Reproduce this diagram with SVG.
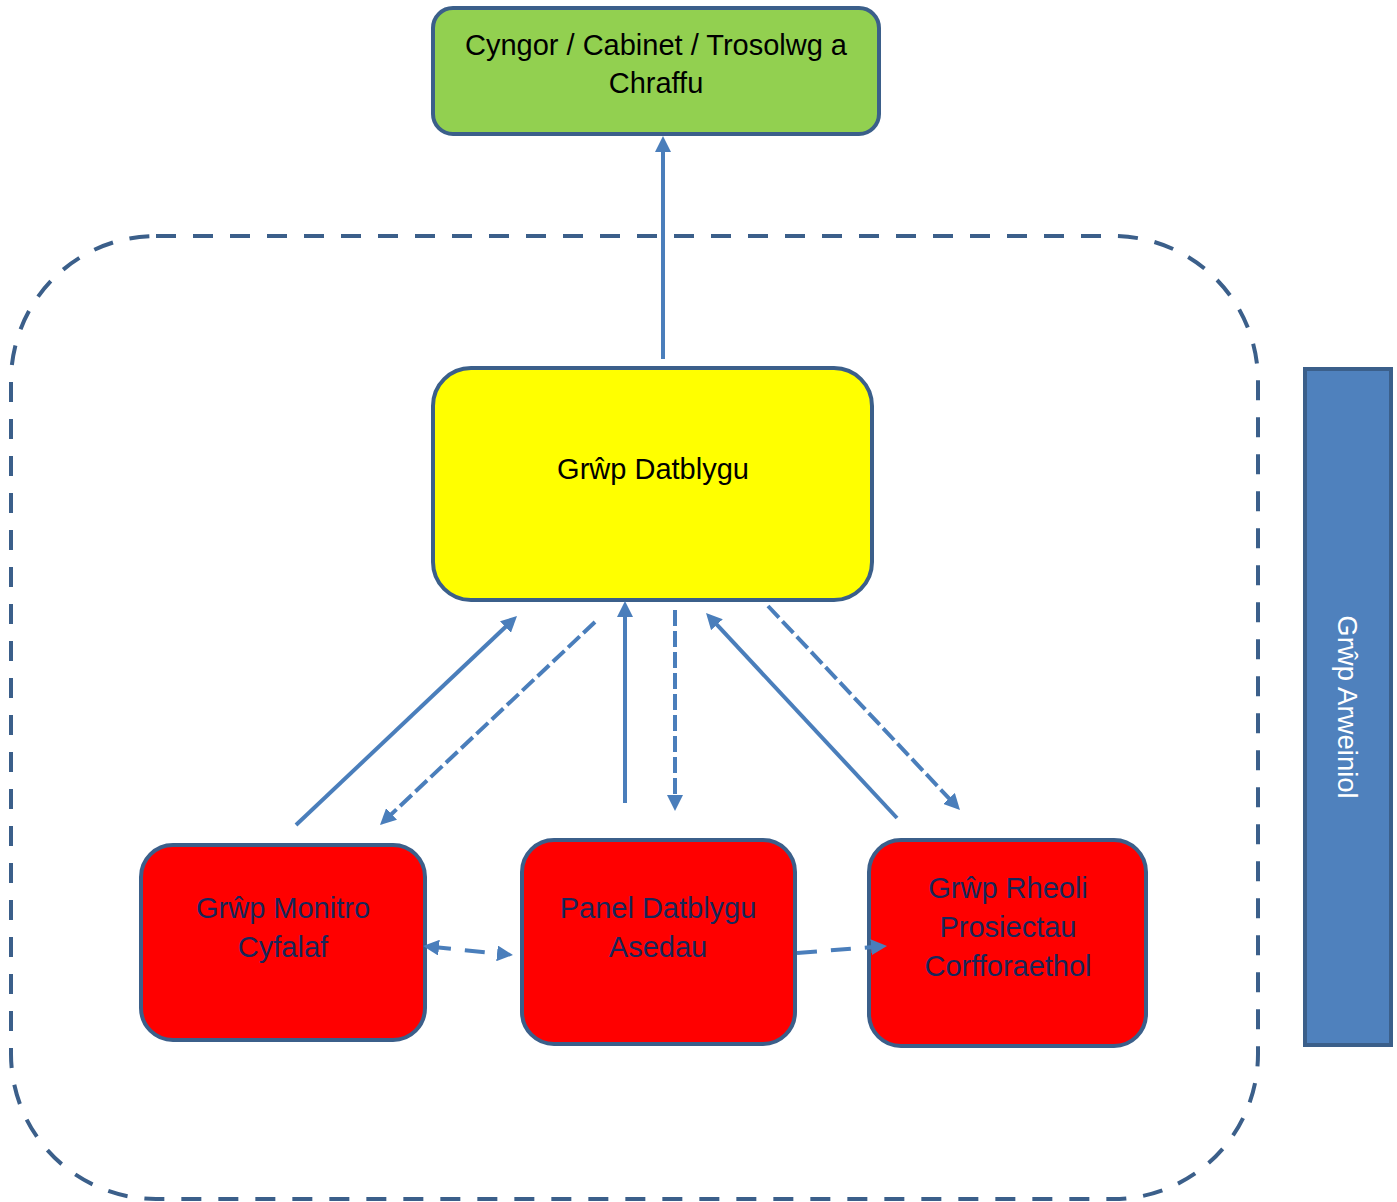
<svg xmlns="http://www.w3.org/2000/svg" width="1397" height="1202" viewBox="0 0 1397 1202">
<style>
.box{stroke:#3B5F8A;stroke-width:4}
.t{font-family:"Liberation Sans",Arial,sans-serif;font-size:29px;text-anchor:middle}
.dark{fill:#17275A}
.conn{stroke:#4A7EBB;stroke-width:4;fill:none}
.sd{stroke-dasharray:16 5}
.ld{stroke-dasharray:20 14}
</style>
<defs>
<marker id="ah" viewBox="0 0 4 4" refX="2" refY="2" markerWidth="4" markerHeight="4" orient="auto-start-reverse">
<path d="M0,0 L4,2 L0,4 z" fill="#4A7EBB"/>
</marker>
</defs>
<rect id="container" x="11" y="236" width="1247" height="963" rx="145" ry="145" fill="none" stroke="#3B5F8A" stroke-width="4" stroke-dasharray="20 17"/>
<g id="cyngor">
<rect class="box" x="433" y="8" width="446" height="126" rx="20" fill="#92D050"/>
<text class="t" x="656" y="55">Cyngor / Cabinet / Trosolwg a</text>
<text class="t" x="656" y="93">Chraffu</text>
</g>
<g id="datblygu">
<rect class="box" x="433" y="368" width="439" height="232" rx="38" fill="#FFFF00"/>
<text class="t" x="653" y="479">Grŵp Datblygu</text>
</g>
<g id="monitro">
<rect class="box" x="141" y="845" width="284" height="195" rx="32" fill="#FF0000"/>
<text class="t dark" x="283" y="918">Grŵp Monitro</text>
<text class="t dark" x="283" y="957">Cyfalaf</text>
</g>
<g id="panel">
<rect class="box" x="522" y="840" width="273" height="204" rx="32" fill="#FF0000"/>
<text class="t dark" x="658" y="918">Panel Datblygu</text>
<text class="t dark" x="658" y="957">Asedau</text>
</g>
<g id="rheoli">
<rect class="box" x="869" y="840" width="277" height="206" rx="32" fill="#FF0000"/>
<text class="t dark" x="1008" y="898">Grŵp Rheoli</text>
<text class="t dark" x="1008" y="937">Prosiectau</text>
<text class="t dark" x="1008" y="976">Corfforaethol</text>
</g>
<g id="arweiniol">
<rect class="box" x="1305" y="369" width="86" height="676" fill="#4F81BD"/>
<text class="t" transform="translate(1338,707) rotate(90)" x="0" y="0" style="font-size:27.5px" fill="#FFFFFF">Grŵp Arweiniol</text>
</g>
<g id="connectors">
<line class="conn" x1="663" y1="359" x2="663" y2="144" marker-end="url(#ah)"/>
<line class="conn" x1="296" y1="825" x2="511.2" y2="621.5" marker-end="url(#ah)"/>
<line class="conn sd" x1="595" y1="622" x2="385.8" y2="819.5" marker-end="url(#ah)"/>
<line class="conn" x1="625" y1="803" x2="625" y2="609" marker-end="url(#ah)"/>
<line class="conn sd" x1="675" y1="610" x2="675" y2="803" marker-end="url(#ah)"/>
<line class="conn" x1="897" y1="818" x2="711.5" y2="618.9" marker-end="url(#ah)"/>
<line class="conn sd" x1="768" y1="606" x2="954.5" y2="804.2" marker-end="url(#ah)"/>
<line class="conn ld" x1="431" y1="946.8" x2="505" y2="954.2" marker-start="url(#ah)" marker-end="url(#ah)"/>
<line class="conn ld" x1="797" y1="953" x2="879" y2="946.6" marker-end="url(#ah)"/>
</g>
</svg>
